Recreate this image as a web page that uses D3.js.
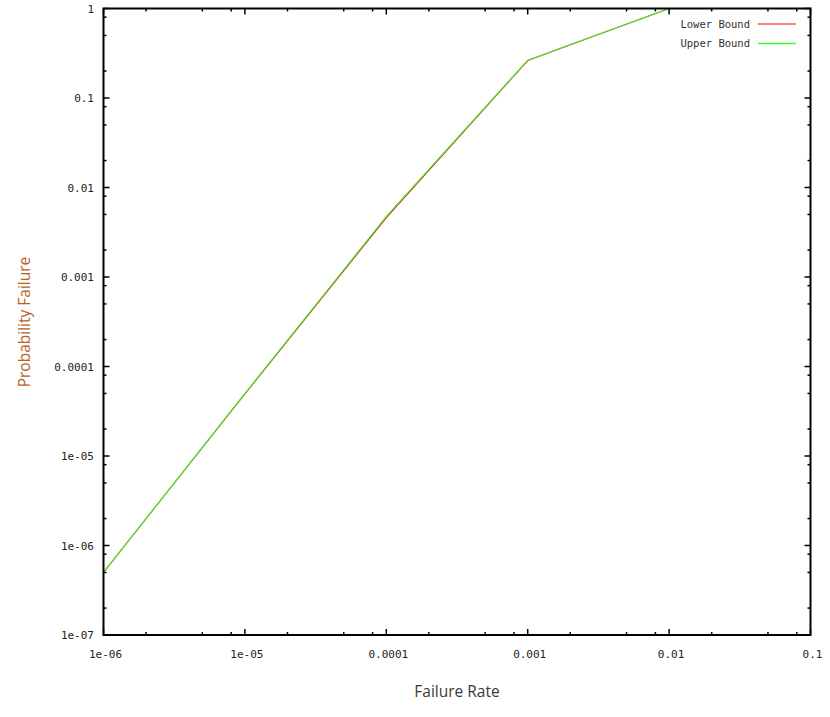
<!DOCTYPE html>
<html><head><meta charset="utf-8">
<script src="https://cdn.jsdelivr.net/npm/d3@7"></script>
<style>body{margin:0;background:#fff}svg{display:block}</style>
</head><body>
<svg id="c" width="830" height="717"></svg>
<script>
const rates = [1e-6, 1e-5, 1e-4, 1e-3, 1e-2];
const lowerBound = [5e-7, 4.95e-5, 4.6e-3, 0.262, 0.999];
const upperBound = [5e-7, 5.0e-5, 4.75e-3, 0.265, 1.0];
const xTickVals = [1e-6, 1e-5, 1e-4, 1e-3, 1e-2, 1e-1];
const xTickLabels = ["1e-06", "1e-05", "0.0001", "0.001", "0.01", "0.1"];
const yTickVals = [1e-7, 1e-6, 1e-5, 1e-4, 1e-3, 1e-2, 1e-1, 1];
const yTickLabels = ["1e-07", "1e-06", "1e-05", "0.0001", "0.001", "0.01", "0.1", "1"];
const minorMult = [2, 5, 8];
const seriesNames = ["Lower Bound", "Upper Bound"];
const seriesColors = ["#ff0000", "#33ff33"];

const L = 103.5, R = 810.5, T = 8.5, B = 635;
const svg = d3.select("#c");
const x = d3.scaleLog().domain([1e-6, 1e-1]).range([L, R]);
const y = d3.scaleLog().domain([1e-7, 1]).range([B, T]);

const monoFont = "'DejaVu Sans Mono', monospace";
const xMinor = [], yMinor = [];
xTickVals.slice(0, -1).forEach(v => minorMult.forEach(m => xMinor.push(v * m)));
yTickVals.slice(0, -1).forEach(v => minorMult.forEach(m => yMinor.push(v * m)));
const g = svg.append("g").attr("stroke", "#000").attr("stroke-width", 1.5);
xTickVals.forEach(v => {
  g.append("line").attr("x1", x(v)).attr("x2", x(v)).attr("y1", B).attr("y2", B - 6);
  g.append("line").attr("x1", x(v)).attr("x2", x(v)).attr("y1", T).attr("y2", T + 6);
});
xMinor.forEach(v => {
  g.append("line").attr("x1", x(v)).attr("x2", x(v)).attr("y1", B).attr("y2", B - 3);
  g.append("line").attr("x1", x(v)).attr("x2", x(v)).attr("y1", T).attr("y2", T + 3);
});
yTickVals.forEach(v => {
  g.append("line").attr("y1", y(v)).attr("y2", y(v)).attr("x1", L).attr("x2", L + 6);
  g.append("line").attr("y1", y(v)).attr("y2", y(v)).attr("x1", R).attr("x2", R - 6);
});
yMinor.forEach(v => {
  g.append("line").attr("y1", y(v)).attr("y2", y(v)).attr("x1", L).attr("x2", L + 3);
  g.append("line").attr("y1", y(v)).attr("y2", y(v)).attr("x1", R).attr("x2", R - 3);
});

xTickVals.forEach((v, i) => {
  svg.append("text").attr("x", x(v) + 2).attr("y", 658).attr("text-anchor", "middle")
    .attr("font-family", monoFont).attr("font-size", 11).attr("fill", "#222").text(xTickLabels[i]);
});
yTickVals.forEach((v, i) => {
  svg.append("text").attr("x", 94).attr("y", y(v) + 4).attr("text-anchor", "end")
    .attr("font-family", monoFont).attr("font-size", 11).attr("fill", "#222").text(yTickLabels[i]);
});

const line = d3.line().x((d, i) => x(rates[i])).y(d => y(d));
[lowerBound, upperBound].forEach((s, k) => {
  svg.append("path").datum(s).attr("d", line).attr("fill", "none")
    .attr("stroke", seriesColors[k]).attr("stroke-width", 1.1);
});

svg.append("rect").attr("x", L).attr("y", T).attr("width", R - L).attr("height", B - T)
  .attr("fill", "none").attr("stroke", "#000").attr("stroke-width", 2);

seriesNames.forEach((n, k) => {
  const ly = 24 + k * 19.5;
  svg.append("text").attr("x", 750).attr("y", ly + 3.5).attr("text-anchor", "end")
    .attr("font-family", monoFont).attr("font-size", 10.5).attr("fill", "#333").text(n);
  svg.append("line").attr("x1", 758).attr("x2", 796).attr("y1", ly).attr("y2", ly)
    .attr("stroke", seriesColors[k]).attr("stroke-width", k ? 1.6 : 1.1);
});

svg.append("text").attr("x", 457).attr("y", 697).attr("text-anchor", "middle")
  .attr("font-family", "'Open Sans', sans-serif").attr("font-size", 15.5).attr("fill", "#3a3a3a")
  .text("Failure Rate");
svg.append("text").attr("transform", "translate(30,322) rotate(-90)").attr("text-anchor", "middle")
  .attr("font-family", "'Open Sans', sans-serif").attr("font-size", 15.5).attr("fill", "#b8621f")
  .text("Probability Failure");
</script>
</body></html>
